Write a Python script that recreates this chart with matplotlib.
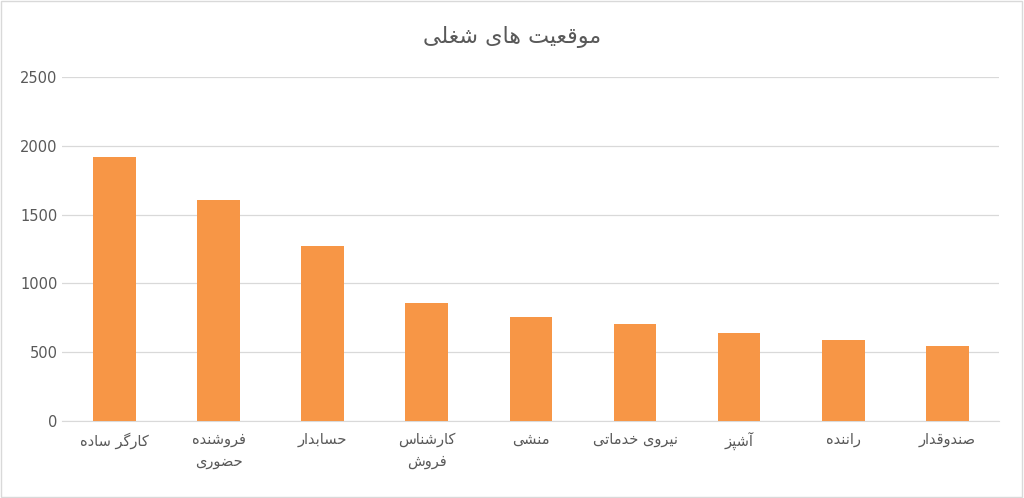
import matplotlib.pyplot as plt
from matplotlib.patches import Rectangle

labels = ["کارگر ساده", "فروشنده\nحضوری", "حسابدار", "کارشناس\nفروش", "منشی",
          "نیروی خدماتی", "آشپز", "راننده", "صندوقدار"]
values = [1920, 1610, 1275, 855, 755, 705, 640, 590, 545]
title = "موقعیت های شغلی"

# isolated, final, initial, medial
FORMS = {
    'ا': (0xFE8D, 0xFE8E, None, None), 'آ': (0xFE81, 0xFE82, None, None),
    'ب': (0xFE8F, 0xFE90, 0xFE91, 0xFE92), 'پ': (0xFB56, 0xFB57, 0xFB58, 0xFB59),
    'ت': (0xFE95, 0xFE96, 0xFE97, 0xFE98), 'ح': (0xFEA1, 0xFEA2, 0xFEA3, 0xFEA4),
    'خ': (0xFEA5, 0xFEA6, 0xFEA7, 0xFEA8), 'د': (0xFEA9, 0xFEAA, None, None),
    'ر': (0xFEAD, 0xFEAE, None, None), 'ز': (0xFEAF, 0xFEB0, None, None),
    'س': (0xFEB1, 0xFEB2, 0xFEB3, 0xFEB4), 'ش': (0xFEB5, 0xFEB6, 0xFEB7, 0xFEB8),
    'ص': (0xFEB9, 0xFEBA, 0xFEBB, 0xFEBC), 'ض': (0xFEBD, 0xFEBE, 0xFEBF, 0xFEC0),
    'ع': (0xFEC9, 0xFECA, 0xFECB, 0xFECC), 'غ': (0xFECD, 0xFECE, 0xFECF, 0xFED0),
    'ف': (0xFED1, 0xFED2, 0xFED3, 0xFED4), 'ق': (0xFED5, 0xFED6, 0xFED7, 0xFED8),
    'ک': (0xFB8E, 0xFB8F, 0xFB90, 0xFB91), 'گ': (0xFB92, 0xFB93, 0xFB94, 0xFB95),
    'ل': (0xFEDD, 0xFEDE, 0xFEDF, 0xFEE0), 'م': (0xFEE1, 0xFEE2, 0xFEE3, 0xFEE4),
    'ن': (0xFEE5, 0xFEE6, 0xFEE7, 0xFEE8), 'ه': (0xFEE9, 0xFEEA, 0xFEEB, 0xFEEC),
    'و': (0xFEED, 0xFEEE, None, None), 'ی': (0xFBFC, 0xFBFD, 0xFBFE, 0xFBFF),
}


def shape_word(w):
    out = []
    for i, ch in enumerate(w):
        f = FORMS.get(ch)
        if f is None:
            out.append(ch)
            continue
        prev = w[i - 1] if i > 0 else None
        nxt = w[i + 1] if i + 1 < len(w) else None
        jp = prev in FORMS and FORMS[prev][2] is not None
        jn = nxt in FORMS and f[2] is not None
        if jp and jn:
            c = f[3]
        elif jp:
            c = f[1]
        elif jn:
            c = f[2]
        else:
            c = f[0]
        out.append(chr(c))
    return "".join(out)


def rtl(s):
    lines = []
    for line in s.split("\n"):
        words = [shape_word(w)[::-1] for w in line.split(" ")]
        lines.append(" ".join(words[::-1]))
    return "\n".join(lines)


plt.rcParams['font.family'] = ['DejaVu Sans']
fig = plt.figure(figsize=(10.24, 4.98), dpi=100)
ax = fig.add_axes([0.061, 0.155, 0.915, 0.69])
x = range(len(values))
ax.bar(x, values, width=0.41, color="#F79646", zorder=3)
ax.set_xlim(-0.5, len(values) - 0.5)
ax.set_ylim(0, 2500)
ax.set_yticks(range(0, 2501, 500))
ax.set_xticks(list(x))
ax.set_xticklabels([rtl(l) for l in labels], color="#595959", fontsize=10.5, linespacing=1.6)
ax.tick_params(axis='y', colors="#595959", labelsize=10.5, length=0)
ax.tick_params(axis='x', length=0, pad=8)
ax.grid(axis='y', color="#D9D9D9", linewidth=0.9, zorder=0)
for s in ["top", "right", "left"]:
    ax.spines[s].set_visible(False)
ax.spines["bottom"].set_color("#D9D9D9")
fig.text(0.5, 0.925, rtl(title), ha='center', va='center', fontsize=16, color="#595959")
fig.patches.append(Rectangle((0.001, 0.002), 0.997, 0.995, transform=fig.transFigure,
                             fill=False, edgecolor="#D9D9D9", linewidth=1))
fig.savefig("out.png", dpi=100)
